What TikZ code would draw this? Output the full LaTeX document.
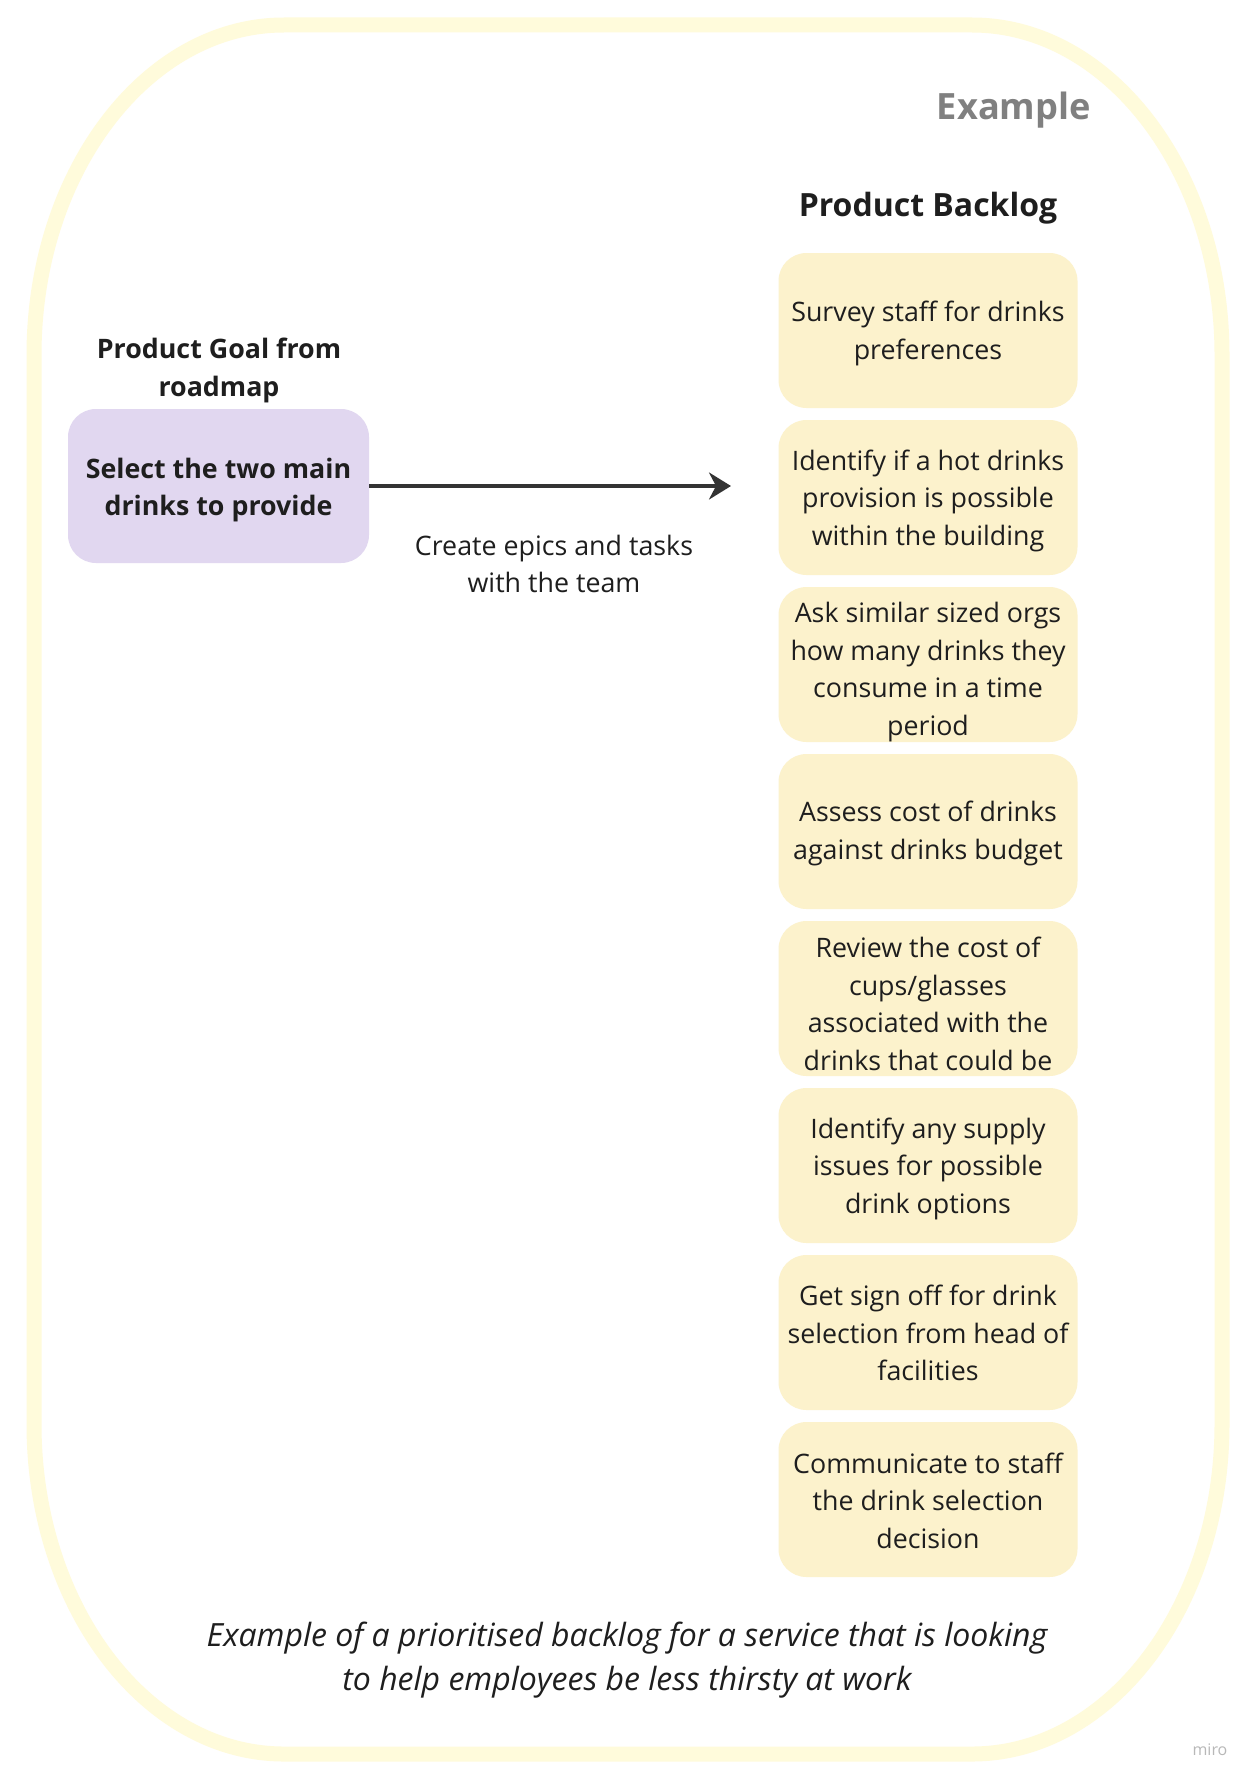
\documentclass[tikz,border=0pt]{standalone}
\usepackage{fontspec}
\setmainfont{Open Sans}
\usetikzlibrary{arrows.meta}
\definecolor{framey}{HTML}{FFFBDB}
\definecolor{backfill}{HTML}{FCF2CC}
\definecolor{goalfill}{HTML}{E1D7F0}
\definecolor{ink}{HTML}{1E1E1E}
\definecolor{arrowc}{HTML}{333333}
\tikzset{
  backlog/.style={rectangle, rounded corners=28pt, fill=backfill, minimum width=299pt, minimum height=155pt, inner sep=0pt},
  btext/.style={align=center, text=ink, font=\fontsize{26.8}{37.5}\selectfont, inner sep=0pt},
  goalbox/.style={rectangle, rounded corners=28pt, fill=goalfill, minimum width=301pt, minimum height=154pt, inner sep=0pt},
  goaltxt/.style={align=center, text=ink, font=\bfseries\fontsize{26.8}{37.5}\selectfont, inner sep=0pt},
  heading/.style={align=center, text=ink, font=\bfseries\fontsize{26.8}{38}\selectfont, inner sep=0pt},
  flow/.style={draw=arrowc, line width=3.3pt, -{Stealth[length=22pt, width=27pt, inset=7pt]}},
}
\begin{document}
\begin{tikzpicture}[x=1pt, y=-1pt]
\useasboundingbox (0,0) rectangle (1259,1785);
\fill[white] (0,0) rectangle (1259,1785);
% outer frame
\draw[framey, line width=15pt]
  (284,25) -- (972,25) .. controls (1110,25) and (1222,173) .. (1222,355)
  -- (1222,1424) .. controls (1222,1606) and (1110,1754) .. (972,1754)
  -- (284,1754) .. controls (146,1754) and (34,1606) .. (34,1424)
  -- (34,355) .. controls (34,173) and (146,25) .. (284,25) -- cycle;

\node[anchor=base east, text=gray, font=\bfseries\fontsize{36.2}{44}\selectfont, inner sep=0pt] (example) at (1091,119) {Example};
\node[anchor=base, text=ink, font=\bfseries\fontsize{32}{40}\selectfont, inner sep=0pt] (pbtitle) at (928,216) {Product Backlog};

% backlog items
\node[backlog] (b1) at (928,330.5) {};
\node[btext] (t1) at (928,333.5) {Survey staff for drinks\\preferences};
\node[backlog] (b2) at (928,497.5) {};
\node[btext] (t2) at (928,500.5) {Identify if a hot drinks\\provision is possible\\within the building};
\node[backlog] (b3) at (928,664.5) {};
\begin{scope}
  \clip[rounded corners=28pt] (b3.south west) rectangle (b3.north east);
  \node[btext] (t3) at (928,672) {Ask similar sized orgs\\how many drinks they\\consume in a time\\period};
\end{scope}
\node[backlog] (b4) at (928,831.5) {};
\node[btext] (t4) at (928,833.5) {Assess cost of drinks\\against drinks budget};
\node[backlog] (b5) at (928,998.5) {};
\begin{scope}
  \clip[rounded corners=28pt] (b5.south west) rectangle (b5.north east);
  \node[btext] (t5) at (928,1004) {Review the cost of\\cups/glasses\\associated with the\\drinks that could be};
\end{scope}
\node[backlog] (b6) at (928,1165.5) {};
\node[btext] (t6) at (928,1168.5) {Identify any supply\\issues for possible\\drink options};
\node[backlog] (b7) at (928,1332.5) {};
\node[btext] (t7) at (928,1333) {Get sign off for drink\\selection from head of\\facilities};
\node[backlog] (b8) at (928,1499.5) {};
\node[btext] (t8) at (928,1500.5) {Communicate to staff\\the drink selection\\decision};

% goal
\node[heading] (goallabel) at (219,370.5) {Product Goal from\\roadmap};
\node[goalbox] (goal) at (218.5,486) {};
\node[goaltxt] (goaltext) at (218.5,490) {Select the two main\\drinks to provide};

\coordinate (arrowend) at (731,486);
\draw[flow] (goal.east) -- (arrowend);
\node[btext] (flowlabel) at (554,564) {Create epics and tasks\\with the team};

% caption
\node[align=center, text=ink, font=\itshape\fontsize{32}{44}\selectfont, inner sep=0pt] (caption) at (627,1660) {Example of a prioritised backlog for a service that is looking\\to help employees be less thirsty at work};

\node[text=black!28, font=\fontsize{16}{18}\selectfont, inner sep=0pt] (miro) at (1210,1750) {miro};
\end{tikzpicture}
\end{document}
